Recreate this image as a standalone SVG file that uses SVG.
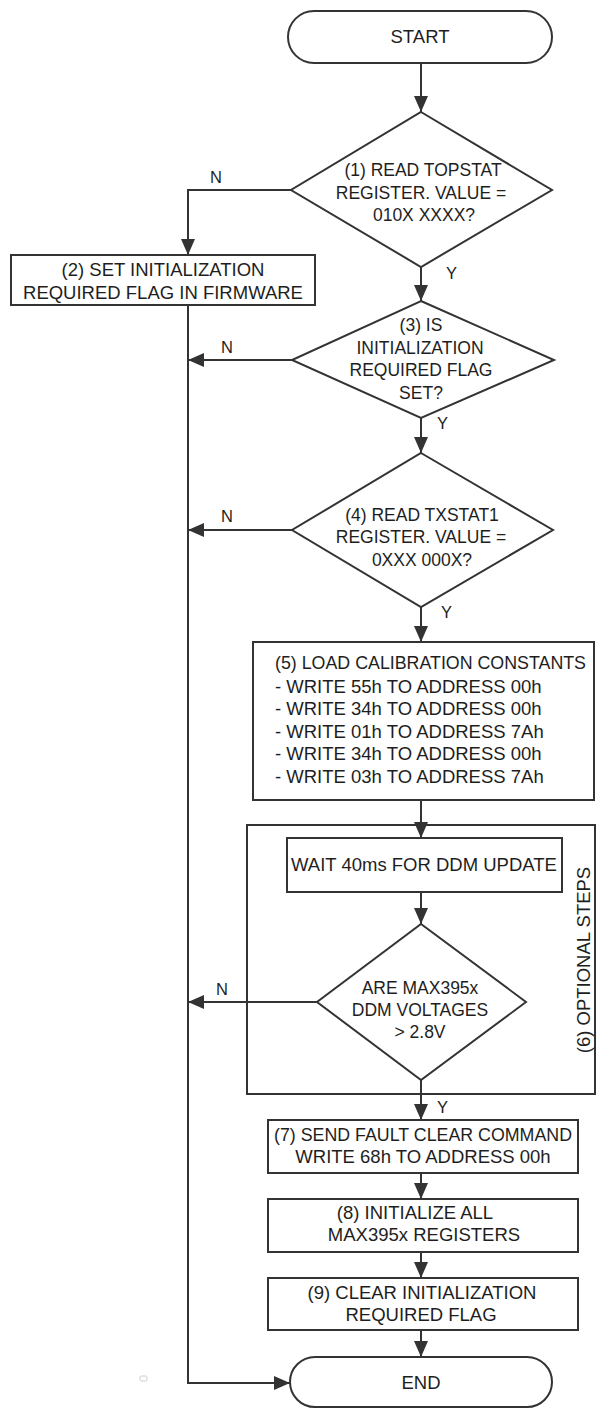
<svg xmlns="http://www.w3.org/2000/svg" width="597" height="1408" viewBox="0 0 597 1408">
<style>
.shape{fill:#fff;stroke:#333;stroke-width:2}
.conn{fill:none;stroke:#333;stroke-width:2}
text{font-family:"Liberation Sans",Arial,sans-serif;font-size:17.5px;fill:#1e1e1e}
.c{text-anchor:middle}
.w{font-size:18.5px}
.lbl{font-size:16.5px}
</style>
<defs>
<marker id="ah" markerUnits="userSpaceOnUse" viewBox="0 0 16 14" refX="16" refY="7" markerWidth="16" markerHeight="14" orient="auto">
<path d="M0,0 L16,7 L0,14 z" fill="#333"/>
</marker>
</defs>
<rect width="597" height="1408" fill="#fff"/>

<g id="optional">
<rect x="247" y="825" width="348" height="269" fill="none" stroke="#333" stroke-width="2"/>
<text transform="translate(590,960) rotate(-90)" class="c w">(6) OPTIONAL STEPS</text>
</g>

<g id="connectors">
<path class="conn" d="M421,63 V112" marker-end="url(#ah)"/>
<path class="conn" d="M291,190 H188 V255" marker-end="url(#ah)"/>
<path class="conn" d="M421,267 V301" marker-end="url(#ah)"/>
<path class="conn" d="M292,360 H188" marker-end="url(#ah)"/>
<path class="conn" d="M421,418 V453" marker-end="url(#ah)"/>
<path class="conn" d="M292,530 H188" marker-end="url(#ah)"/>
<path class="conn" d="M421,607 V642" marker-end="url(#ah)"/>
<path class="conn" d="M421,800 V838" marker-end="url(#ah)"/>
<path class="conn" d="M421,892 V924" marker-end="url(#ah)"/>
<path class="conn" d="M317,1002 H188" marker-end="url(#ah)"/>
<path class="conn" d="M421,1080 V1120" marker-end="url(#ah)"/>
<path class="conn" d="M421,1173 V1199" marker-end="url(#ah)"/>
<path class="conn" d="M421,1252 V1278" marker-end="url(#ah)"/>
<path class="conn" d="M421,1330 V1357" marker-end="url(#ah)"/>
<path class="conn" d="M188,305 V1383 H290" marker-end="url(#ah)"/>
<text class="lbl c" x="216" y="183">N</text>
<text class="lbl" x="446" y="279">Y</text>
<text class="lbl c" x="227" y="353">N</text>
<text class="lbl" x="437" y="429">Y</text>
<text class="lbl c" x="227" y="522">N</text>
<text class="lbl" x="441" y="618">Y</text>
<text class="lbl c" x="222" y="995">N</text>
<text class="lbl" x="437" y="1113">Y</text>
</g>

<g id="start">
<rect class="shape" x="288" y="11" width="264" height="52" rx="26"/>
<text class="c w" x="420" y="43">START</text>
</g>

<g id="d1">
<polygon class="shape" points="421,112 552,190 421,267 291,190"/>
<text class="c" x="423" y="176">(1) READ TOPSTAT</text>
<text class="c" x="421" y="199">REGISTER. VALUE =</text>
<text class="c" x="424" y="221">010X XXXX?</text>
</g>

<g id="b2">
<rect class="shape" x="11" y="255" width="304" height="50"/>
<text class="c w" x="163" y="276">(2) SET INITIALIZATION</text>
<text class="c w" x="163" y="299">REQUIRED FLAG IN FIRMWARE</text>
</g>

<g id="d3">
<polygon class="shape" points="421,301 554,360 421,418 292,360"/>
<text class="c" x="421" y="331">(3) IS</text>
<text class="c" x="420" y="354">INITIALIZATION</text>
<text class="c" x="421" y="376">REQUIRED FLAG</text>
<text class="c" x="421" y="399">SET?</text>
</g>

<g id="d4">
<polygon class="shape" points="421,453 553,530 421,607 292,530"/>
<text class="c" x="422" y="521">(4) READ TXSTAT1</text>
<text class="c" x="421" y="543">REGISTER. VALUE =</text>
<text class="c" x="422" y="566">0XXX 000X?</text>
</g>

<g id="b5">
<rect class="shape" x="253" y="642" width="341" height="158"/>
<text class="w" x="275" y="669" textLength="311" lengthAdjust="spacingAndGlyphs">(5) LOAD CALIBRATION CONSTANTS</text>
<text class="w" x="275" y="693">- WRITE 55h TO ADDRESS 00h</text>
<text class="w" x="275" y="715">- WRITE 34h TO ADDRESS 00h</text>
<text class="w" x="275" y="738">- WRITE 01h TO ADDRESS 7Ah</text>
<text class="w" x="275" y="760">- WRITE 34h TO ADDRESS 00h</text>
<text class="w" x="275" y="783">- WRITE 03h TO ADDRESS 7Ah</text>
</g>

<g id="wait">
<rect class="shape" x="287" y="838" width="275" height="54"/>
<text class="c w" x="424" y="871">WAIT 40ms FOR DDM UPDATE</text>
</g>

<g id="d6">
<polygon class="shape" points="421,924 526,1002 421,1080 317,1002"/>
<text class="c" x="420" y="994">ARE MAX395x</text>
<text class="c" x="420" y="1016">DDM VOLTAGES</text>
<text class="c" x="420" y="1038">&gt; 2.8V</text>
</g>

<g id="b7">
<rect class="shape" x="268" y="1120" width="310" height="53"/>
<text class="c w" x="423" y="1141" textLength="298" lengthAdjust="spacingAndGlyphs">(7) SEND FAULT CLEAR COMMAND</text>
<text class="c w" x="423" y="1163">WRITE 68h TO ADDRESS 00h</text>
</g>

<g id="b8">
<rect class="shape" x="268" y="1199" width="310" height="53"/>
<text class="c w" x="415" y="1219">(8) INITIALIZE ALL</text>
<text class="c w" x="424" y="1241">MAX395x REGISTERS</text>
</g>

<g id="b9">
<rect class="shape" x="268" y="1278" width="310" height="52"/>
<text class="c w" x="422" y="1299">(9) CLEAR INITIALIZATION</text>
<text class="c w" x="421" y="1321">REQUIRED FLAG</text>
</g>

<g id="end">
<rect class="shape" x="290" y="1357" width="262" height="50" rx="25"/>
<text class="c w" x="421" y="1389">END</text>
</g>

<rect x="140" y="1376" width="7" height="5" rx="1.5" fill="none" stroke="#ccc" stroke-width="1"/>
</svg>
